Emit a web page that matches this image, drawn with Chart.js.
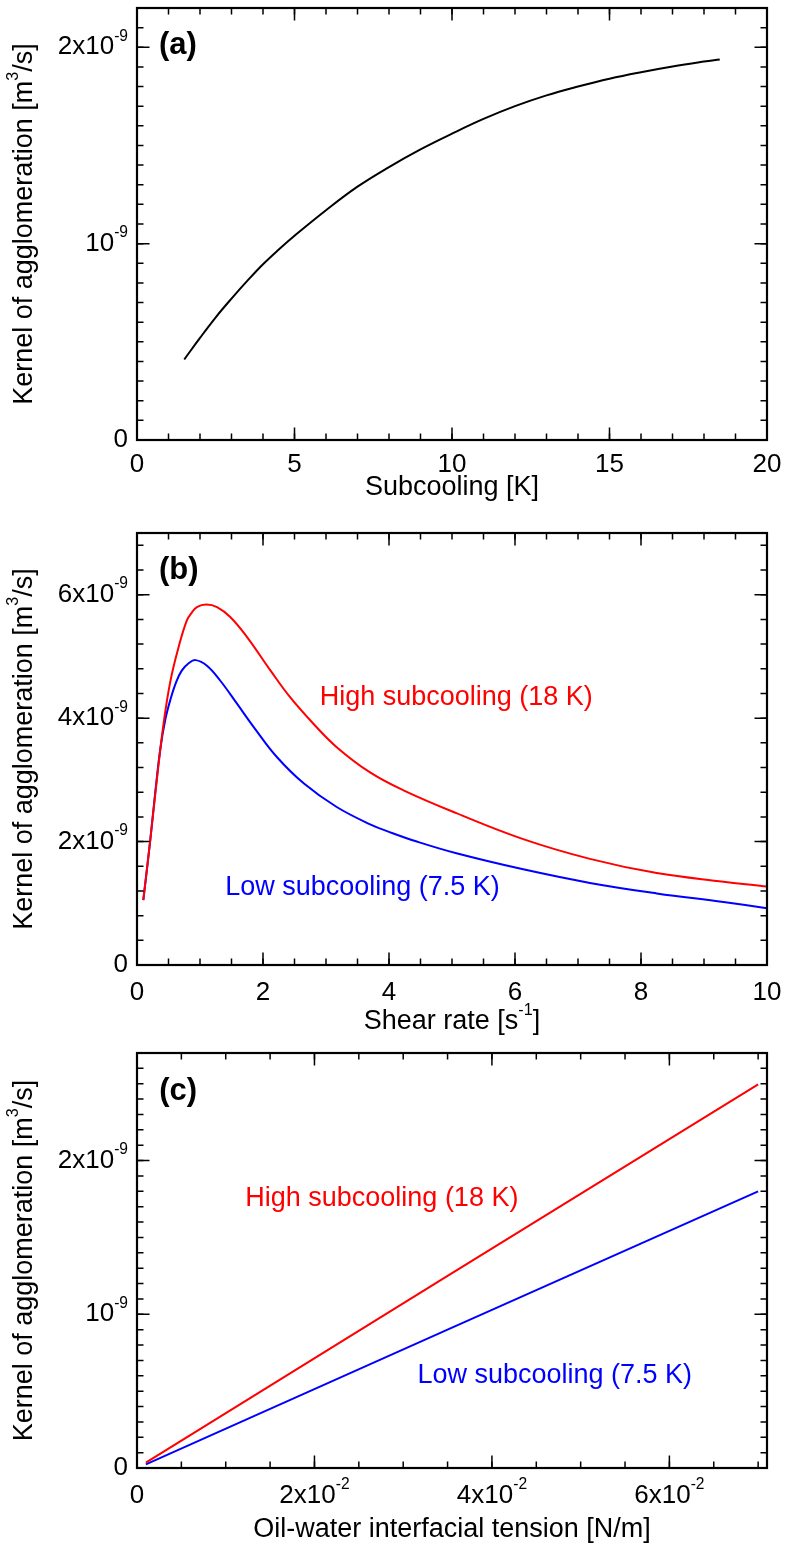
<!DOCTYPE html>
<html>
<head>
<meta charset="UTF-8">
<title>Kernel of agglomeration</title>
<script src="https://cdn.jsdelivr.net/npm/chart.js"></script>
<style>
    body { margin: 0; background: #fff; }
    canvas { position: absolute; left: 0; }
</style>
</head>
<body>
<canvas id="chartA" width="787" height="520" style="top:0"></canvas>
<canvas id="chartB" width="787" height="540" style="top:520px"></canvas>
<canvas id="chartC" width="787" height="540" style="top:1025px"></canvas>
<script>
// (a) kernel vs subcooling
const subcooling = [1.5, 2, 2.5, 3, 3.5, 4, 4.5, 5, 6, 7, 8, 9, 10, 11, 12, 13, 14, 15, 16, 17, 18, 18.5];
const kernelA = [0.41e-9, 0.52e-9, 0.625e-9, 0.72e-9, 0.81e-9, 0.895e-9, 0.97e-9, 1.04e-9, 1.17e-9, 1.29e-9, 1.39e-9,
    1.48e-9, 1.56e-9, 1.635e-9, 1.70e-9, 1.755e-9, 1.80e-9, 1.84e-9, 1.873e-9, 1.902e-9, 1.927e-9, 1.938e-9];

// (b) kernel vs shear rate
const shearHigh = [0.1, 0.21, 0.32, 0.42, 0.53, 0.66, 0.79, 0.87, 0.95, 1.1, 1.27, 1.48, 1.75, 2.12, 2.43, 2.8, 3.17, 3.7, 4.23, 5.07, 6.13, 7.19, 8.25, 9.31, 10];
const kernelHigh = [1.05e-9, 2.02e-9, 3.05e-9, 3.9e-9, 4.6e-9, 5.15e-9, 5.58e-9, 5.71e-9, 5.80e-9, 5.84e-9, 5.80e-9, 5.64e-9, 5.31e-9, 4.77e-9,
    4.34e-9, 3.91e-9, 3.53e-9, 3.12e-9, 2.83e-9, 2.46e-9, 2.04e-9, 1.72e-9, 1.49e-9, 1.35e-9, 1.27e-9];
const shearLow = [0.1, 0.21, 0.29, 0.37, 0.45, 0.53, 0.62, 0.71, 0.82, 0.93, 1.11, 1.32, 1.59, 1.85, 2.22, 2.65, 3.17, 3.7, 4.02, 4.44, 5.07, 6.13, 7.19, 8.25, 9.31, 10];
const kernelLow = [1.05e-9, 2.02e-9, 2.8e-9, 3.5e-9, 3.98e-9, 4.3e-9, 4.58e-9, 4.77e-9, 4.89e-9, 4.94e-9, 4.85e-9, 4.61e-9, 4.23e-9, 3.86e-9, 3.37e-9,
    2.94e-9, 2.56e-9, 2.28e-9, 2.15e-9, 2.0e-9, 1.81e-9, 1.55e-9, 1.33e-9, 1.16e-9, 1.02e-9, 0.92e-9];

// (c) kernel vs oil-water interfacial tension
const tension = [0.001, 0.035, 0.07];
const kernelTensionHigh = [0.035e-9, 1.25e-9, 2.496e-9];
const kernelTensionLow = [0.024e-9, 0.90e-9, 1.80e-9];

// axes
const aXTicks = [0, 5, 10, 15, 20];
const aXLabels = ['0', '5', '10', '15', '20'];
const aYTicks = [0, 1e-9, 2e-9];
const aYLabels = ['0', '10^{-9}', '2x10^{-9}'];
const bXTicks = [0, 2, 4, 6, 8, 10];
const bXLabels = ['0', '2', '4', '6', '8', '10'];
const bYTicks = [0, 2e-9, 4e-9, 6e-9];
const bYLabels = ['0', '2x10^{-9}', '4x10^{-9}', '6x10^{-9}'];
const cXTicks = [0, 0.02, 0.04, 0.06];
const cXLabels = ['0', '2x10^{-2}', '4x10^{-2}', '6x10^{-2}'];
const cYTicks = [0, 1e-9, 2e-9];
const cYLabels = ['0', '10^{-9}', '2x10^{-9}'];

const yTitle = 'Kernel of agglomeration [m^{3}/s]';
const highLabel = 'High subcooling (18 K)';
const lowLabel = 'Low subcooling (7.5 K)';

const FONT = "'Liberation Sans', Arial, Helvetica, sans-serif";
const RED = '#ff0000';
const BLUE = '#0000ff';

function toPoints(xs, ys) {
    return xs.map((v, i) => ({x: v, y: ys[i]}));
}

// text with ^{...} superscripts
function drawRich(ctx, text, x, y, size, align, weight) {
    weight = weight || 'normal';
    const parts = text.split(/\^\{([^}]*)\}/).map((t, i) => ({t: t, sup: i % 2 === 1})).filter(p => p.t);
    let w = 0;
    parts.forEach(p => {
        ctx.font = weight + ' ' + (p.sup ? size * 0.6 : size) + 'px ' + FONT;
        p.w = ctx.measureText(p.t).width;
        w += p.w;
    });
    let cx = align === 'right' ? x - w : align === 'center' ? x - w / 2 : x;
    ctx.textAlign = 'left';
    ctx.textBaseline = 'middle';
    parts.forEach(p => {
        ctx.font = weight + ' ' + (p.sup ? size * 0.6 : size) + 'px ' + FONT;
        ctx.fillText(p.t, cx, p.sup ? y - size * 0.42 : y);
        cx += p.w;
    });
}

const framePlugin = {
    id: 'frame',
    afterDraw(chart, args, o) {
        const {ctx, chartArea: a, scales: {x, y}} = chart;
        ctx.save();
        ctx.strokeStyle = '#000';
        ctx.fillStyle = '#000';

        // minor + major ticks on all four sides, pointing inward
        ctx.lineWidth = 1.5;
        const ticksAt = (scale, values, len) => {
            values.forEach(v => {
                const p = scale.getPixelForValue(v);
                ctx.beginPath();
                if (scale.axis === 'x') {
                    ctx.moveTo(p, a.bottom); ctx.lineTo(p, a.bottom - len);
                    ctx.moveTo(p, a.top); ctx.lineTo(p, a.top + len);
                } else {
                    ctx.moveTo(a.left, p); ctx.lineTo(a.left + len, p);
                    ctx.moveTo(a.right, p); ctx.lineTo(a.right - len, p);
                }
                ctx.stroke();
            });
        };
        const minors = (scale, step) => {
            const out = [];
            for (let i = 0; scale.min + i * step <= scale.max + step * 1e-6; i++) out.push(scale.min + i * step);
            return out;
        };
        ticksAt(x, minors(x, o.xMinor), 6.5);
        ticksAt(y, minors(y, o.yMinor), 6.5);
        ticksAt(x, o.xTicks, 12.5);
        ticksAt(y, o.yTicks, 12.5);

        ctx.lineWidth = 2.2;
        ctx.strokeRect(a.left, a.top, a.right - a.left, a.bottom - a.top);

        // tick labels
        o.xTicks.forEach((v, i) => drawRich(ctx, o.xLabels[i], x.getPixelForValue(v), a.bottom + o.xLabelGap, 26, 'center'));
        o.yTicks.forEach((v, i) => drawRich(ctx, o.yLabels[i], a.left - 9, y.getPixelForValue(v), 26, 'right'));

        // axis titles
        drawRich(ctx, o.xTitle, (a.left + a.right) / 2, a.bottom + o.xTitleGap, 27, 'center');
        ctx.save();
        ctx.translate(25, (a.top + a.bottom) / 2);
        ctx.rotate(-Math.PI / 2);
        drawRich(ctx, yTitle, 0, 0, 27, 'center');
        ctx.restore();

        // panel letter and curve notes
        drawRich(ctx, o.letter[0], x.getPixelForValue(o.letter[1]), y.getPixelForValue(o.letter[2]), 31, 'left', 'bold');
        (o.notes || []).forEach(n => {
            ctx.fillStyle = n.color;
            drawRich(ctx, n.text, x.getPixelForValue(n.x), y.getPixelForValue(n.y), 27, 'left');
        });
        ctx.restore();
    }
};

function makeChart(id, datasets, xMin, xMax, yMin, yMax, padTop, xAxisH, frame) {
    return new Chart(document.getElementById(id), {
        type: 'line',
        data: {datasets: datasets},
        options: {
            responsive: false,
            animation: false,
            layout: {padding: {top: padTop, right: 20, bottom: 0, left: 0}},
            plugins: {legend: {display: false}, tooltip: {enabled: false}, frame: frame},
            elements: {point: {radius: 0}},
            scales: {
                x: {
                    type: 'linear', min: xMin, max: xMax,
                    ticks: {display: false}, grid: {display: false}, border: {display: false},
                    afterFit: s => { s.height = xAxisH; }
                },
                y: {
                    type: 'linear', min: yMin, max: yMax,
                    ticks: {display: false}, grid: {display: false}, border: {display: false},
                    afterFit: s => { s.width = 137; }
                }
            }
        },
        plugins: [framePlugin]
    });
}

makeChart('chartA', [{
    data: toPoints(subcooling, kernelA),
    borderColor: '#000', borderWidth: 2, tension: 0.4, fill: false
}], 0, 20, 0, 2.2e-9, 8, 80, {
    xTicks: aXTicks, xLabels: aXLabels, yTicks: aYTicks, yLabels: aYLabels,
    xMinor: 1, yMinor: 1e-10, xLabelGap: 25, xTitleGap: 48,
    xTitle: 'Subcooling [K]', letter: ['(a)', 0.7, 2.01e-9]
});

makeChart('chartB', [{
    data: toPoints(shearHigh, kernelHigh),
    borderColor: RED, borderWidth: 2, tension: 0.4, fill: false
}, {
    data: toPoints(shearLow, kernelLow),
    borderColor: BLUE, borderWidth: 2, tension: 0.4, fill: false
}], 0, 10, 0, 7e-9, 13, 95, {
    xTicks: bXTicks, xLabels: bXLabels, yTicks: bYTicks, yLabels: bYLabels,
    xMinor: 0.5, yMinor: 4e-10, xLabelGap: 28, xTitleGap: 57,
    xTitle: 'Shear rate [s^{-1}]', letter: ['(b)', 0.35, 6.39e-9],
    notes: [{text: highLabel, color: RED, x: 2.9, y: 4.34e-9},
            {text: lowLabel, color: BLUE, x: 1.4, y: 1.26e-9}]
});

makeChart('chartC', [{
    data: toPoints(tension, kernelTensionHigh),
    borderColor: RED, borderWidth: 2, tension: 0, fill: false
}, {
    data: toPoints(tension, kernelTensionLow),
    borderColor: BLUE, borderWidth: 2, tension: 0, fill: false
}], 0, 0.071, 0, 2.7e-9, 28, 97, {
    xTicks: cXTicks, xLabels: cXLabels, yTicks: cYTicks, yLabels: cYLabels,
    xMinor: 0.005, yMinor: 1e-10, xLabelGap: 28, xTitleGap: 62,
    xTitle: 'Oil-water interfacial tension [N/m]', letter: ['(c)', 0.0025, 2.45e-9],
    notes: [{text: highLabel, color: RED, x: 0.0122, y: 1.75e-9},
            {text: lowLabel, color: BLUE, x: 0.0316, y: 0.60e-9}]
});
</script>
</body>
</html>
